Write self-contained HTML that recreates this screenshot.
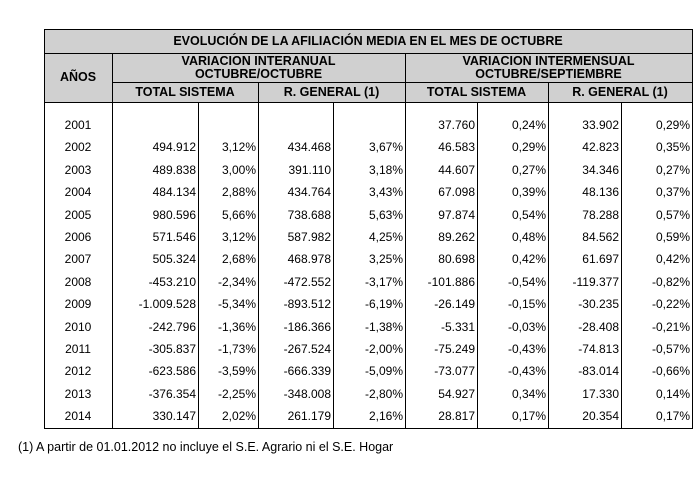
<!DOCTYPE html>
<html><head><meta charset="utf-8"><style>
body{margin:0;background:#fff;width:698px;height:480px;position:relative;overflow:hidden;font-family:"Liberation Sans",sans-serif;color:#000}
.a{position:absolute;box-sizing:border-box}
.h{background:#d0d0d0;font-weight:bold;font-size:12.5px;display:flex;align-items:center;justify-content:center;text-align:center;line-height:13px}
.c{position:absolute;font-size:12px;height:16px;line-height:16px;white-space:nowrap}
.v{position:absolute;background:#000;width:1px}
.hl{position:absolute;background:#000;height:1px}
</style></head><body>
<div class="a h" style="left:44px;top:29px;width:648px;height:24px">EVOLUCIÓN DE LA AFILIACIÓN MEDIA EN EL MES DE OCTUBRE</div>
<div class="a h" style="left:44px;top:53px;width:68px;height:49px">AÑOS</div>
<div class="a h" style="left:112px;top:53px;width:293px;height:29px">VARIACION INTERANUAL<br>OCTUBRE/OCTUBRE</div>
<div class="a h" style="left:405px;top:53px;width:287px;height:29px">VARIACION INTERMENSUAL<br>OCTUBRE/SEPTIEMBRE</div>
<div class="a h" style="left:112px;top:82px;width:146px;height:20px">TOTAL SISTEMA</div>
<div class="a h" style="left:258px;top:82px;width:147px;height:20px">R. GENERAL (1)</div>
<div class="a h" style="left:405px;top:82px;width:143px;height:20px">TOTAL SISTEMA</div>
<div class="a h" style="left:548px;top:82px;width:144px;height:20px">R. GENERAL (1)</div>
<div id="lines"></div>
<div id="body"></div>
<div class="c" style="left:18px;top:439px;font-size:12.5px">(1) A partir de 01.01.2012 no incluye el S.E. Agrario ni el S.E. Hogar</div>
<script>
const years=["2001","2002","2003","2004","2005","2006","2007","2008","2009","2010","2011","2012","2013","2014"];
const tsInter=["","494.912","489.838","484.134","980.596","571.546","505.324","-453.210","-1.009.528","-242.796","-305.837","-623.586","-376.354","330.147"];
const tsInterPct=["","3,12%","3,00%","2,88%","5,66%","3,12%","2,68%","-2,34%","-5,34%","-1,36%","-1,73%","-3,59%","-2,25%","2,02%"];
const rgInter=["","434.468","391.110","434.764","738.688","587.982","468.978","-472.552","-893.512","-186.366","-267.524","-666.339","-348.008","261.179"];
const rgInterPct=["","3,67%","3,18%","3,43%","5,63%","4,25%","3,25%","-3,17%","-6,19%","-1,38%","-2,00%","-5,09%","-2,80%","2,16%"];
const tsMes=["37.760","46.583","44.607","67.098","97.874","89.262","80.698","-101.886","-26.149","-5.331","-75.249","-73.077","54.927","28.817"];
const tsMesPct=["0,24%","0,29%","0,27%","0,39%","0,54%","0,48%","0,42%","-0,54%","-0,15%","-0,03%","-0,43%","-0,43%","0,34%","0,17%"];
const rgMes=["33.902","42.823","34.346","48.136","78.288","84.562","61.697","-119.377","-30.235","-28.408","-74.813","-83.014","17.330","20.354"];
const rgMesPct=["0,29%","0,35%","0,27%","0,37%","0,57%","0,59%","0,42%","-0,82%","-0,22%","-0,21%","-0,57%","-0,66%","0,14%","0,17%"];
const cols=[tsInter,tsInterPct,rgInter,rgInterPct,tsMes,tsMesPct,rgMes,rgMesPct];
const colRight=[198,258,333,405,477,548,621,692];
const body=document.getElementById('body');
years.forEach((y,i)=>{
  const top=117+i*22.4;
  const d=document.createElement('div');
  d.className='c';
  
  
  d.style.left='44px';d.style.width='68px';d.style.textAlign='center';d.style.top=top+'px';
  d.textContent=y;body.appendChild(d);
  cols.forEach((col,j)=>{
    const e=document.createElement('div');
    e.className='c';
    
    
    e.style.right=(698-colRight[j]+2)+'px';e.style.top=top+'px';
    e.textContent=col[i];body.appendChild(e);
  });
});
const L=document.getElementById('lines');
function ln(cls,s){const e=document.createElement('div');e.className=cls;Object.assign(e.style,s);L.appendChild(e);}
[29,53,102,428].forEach(t=>ln('hl',{left:'44px',width:'649px',top:t+'px'}));
ln('hl',{left:'112px',width:'581px',top:'82px'});
ln('v',{left:'44px',top:'29px',height:'400px'});
ln('v',{left:'692px',top:'29px',height:'400px'});
ln('v',{left:'112px',top:'53px',height:'376px'});
ln('v',{left:'405px',top:'53px',height:'376px'});
[258,548].forEach(x=>ln('v',{left:x+'px',top:'82px',height:'347px'}));
[198,333,477,621].forEach(x=>ln('v',{left:x+'px',top:'102px',height:'327px'}));
</script>
</body></html>
